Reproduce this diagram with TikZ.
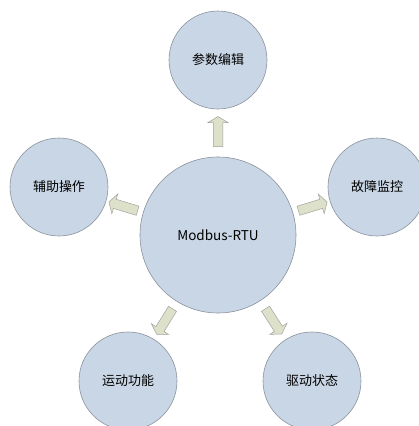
\documentclass[tikz,border=0pt]{standalone}
\usepackage{fontspec}
\setmainfont{Noto Sans CJK SC}
\usetikzlibrary{shapes.arrows}
\begin{document}
\begin{tikzpicture}[x=1pt,y=-1pt,
    hubcircle/.style={shape=circle,draw=modbus_border,fill=modbus_bgcircle,line width=0.6pt,minimum size=156pt,inner sep=0pt,font=\fontsize{13.5}{16}\selectfont},
    subcircle/.style={shape=circle,draw=modbus_border,fill=modbus_bgcircle,line width=0.6pt,minimum size=98pt,inner sep=0pt,font=\fontsize{13}{16}\selectfont},
    blockarrow/.style={shape=single arrow,draw=modbus_arrowline,fill=modbus_bgarrow,line width=0.5pt,inner sep=4.5pt,minimum height=30pt,single arrow head extend=5.5pt,single arrow tip angle=118,sloped,allow upside down}]
    \definecolor{modbus_bgcircle}{RGB}{201,214,229}
    \definecolor{modbus_border}{RGB}{138,146,156}
    \definecolor{modbus_bgarrow}{RGB}{221,225,202}
    \definecolor{modbus_arrowline}{RGB}{160,162,158}
    \useasboundingbox (0,0) rectangle (419,426);
    \node[hubcircle] (hub) at (218,235) {Modbus-RTU};
    \node[subcircle] (param) at (218,60)  {参数编辑};
    \node[subcircle] (aux)   at (59,187)  {辅助操作};
    \node[subcircle] (fault) at (377,187) {故障监控};
    \node[subcircle] (motion) at (128,381) {运动功能};
    \node[subcircle] (drive) at (312,381) {驱动状态};
    \path (hub) -- node[blockarrow] {} (param);
    \path (hub) -- node[blockarrow] {} (aux);
    \path (hub) -- node[blockarrow] {} (fault);
    \path (hub) -- node[blockarrow] {} (motion);
    \path (hub) -- node[blockarrow] {} (drive);
\end{tikzpicture}
\end{document}
